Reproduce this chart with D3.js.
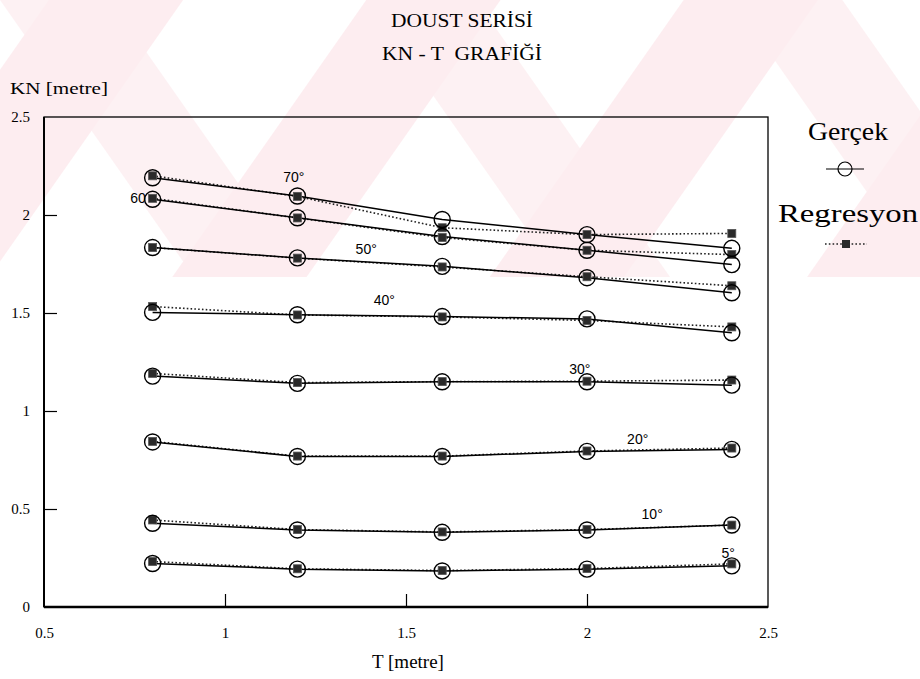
<!DOCTYPE html>
<html><head><meta charset="utf-8">
<script src="https://cdn.jsdelivr.net/npm/d3@7"></script>
<style>body{margin:0;background:#fff}svg{display:block}</style>
</head><body>
<svg id="c" width="920" height="679"></svg>
<script>
const T = [0.8, 1.2, 1.6, 2.0, 2.4];
const angles = ["5", "10", "20", "30", "40", "50", "60", "70"];
const gercek5  = [0.222, 0.193, 0.184, 0.193, 0.210];
const gercek10 = [0.427, 0.393, 0.381, 0.393, 0.418];
const gercek20 = [0.842, 0.768, 0.768, 0.794, 0.804];
const gercek30 = [1.178, 1.141, 1.149, 1.149, 1.132];
const gercek40 = [1.503, 1.491, 1.482, 1.470, 1.399];
const gercek50 = [1.834, 1.781, 1.738, 1.680, 1.603];
const gercek60 = [2.080, 1.986, 1.890, 1.820, 1.747];
const gercek70 = [2.190, 2.097, 1.977, 1.900, 1.830];
const regr5  = [0.232, 0.195, 0.186, 0.196, 0.220];
const regr10 = [0.444, 0.395, 0.383, 0.395, 0.418];
const regr20 = [0.845, 0.770, 0.770, 0.796, 0.811];
const regr30 = [1.192, 1.145, 1.150, 1.152, 1.158];
const regr40 = [1.533, 1.490, 1.480, 1.462, 1.429];
const regr50 = [1.834, 1.780, 1.735, 1.685, 1.639];
const regr60 = [2.085, 1.985, 1.885, 1.820, 1.798];
const regr70 = [2.200, 2.095, 1.935, 1.900, 1.906];
const xTicks = [0.5, 1, 1.5, 2, 2.5];
const yTicks = [0, 0.5, 1, 1.5, 2, 2.5];
const angleLabels = [
  {t:"5°",  x:2.39, y:0.25},
  {t:"10°", x:2.18, y:0.45},
  {t:"20°", x:2.14, y:0.83},
  {t:"30°", x:1.98, y:1.19},
  {t:"40°", x:1.44, y:1.54},
  {t:"50°", x:1.39, y:1.80},
  {t:"60",  x:0.76, y:2.06},
  {t:"70°", x:1.19, y:2.17}
];

const gSeries = [gercek5,gercek10,gercek20,gercek30,gercek40,gercek50,gercek60,gercek70];
const rSeries = [regr5,regr10,regr20,regr30,regr40,regr50,regr60,regr70];

const SERIF = "Liberation Serif";
const SANS = "Liberation Sans";

const svg = d3.select("#c");
const W = 920, H = 679;
const m = {l:44, r:152, t:117, b:72};
const x = d3.scaleLinear().domain([0.5, 2.5]).range([m.l, W - m.r]);
const y = d3.scaleLinear().domain([0, 2.5]).range([H - m.b, m.t]);

// watermark-like pink background band
const defs = svg.append("defs");
const pat = defs.append("pattern").attr("id","wm").attr("patternUnits","userSpaceOnUse")
  .attr("width",260).attr("height",260).attr("patternTransform","rotate(35)");
pat.append("rect").attr("width",260).attr("height",260).attr("fill","#ffffff");
pat.append("rect").attr("x",40).attr("width",110).attr("height",260).attr("fill","#fdedf0");
const pat2 = defs.append("pattern").attr("id","wm2").attr("patternUnits","userSpaceOnUse")
  .attr("width",300).attr("height",300).attr("patternTransform","rotate(-35)");
pat2.append("rect").attr("x",0).attr("width",90).attr("height",300).attr("fill","#fdedf0").attr("opacity",0.8);
svg.append("rect").attr("x",0).attr("y",0).attr("width",W).attr("height",277).attr("fill","url(#wm)");
svg.append("rect").attr("x",0).attr("y",0).attr("width",W).attr("height",277).attr("fill","url(#wm2)");

function txt(xp, yp, s, size, fam, anchor) {
  return svg.append("text").attr("x",xp).attr("y",yp).attr("text-anchor",anchor||"start")
    .style("font-family",fam).style("font-size",size+"px").attr("fill","#000").text(s);
}

// titles
txt(462,27,"DOUST SERİSİ",19,SERIF,"middle").attr("textLength",142).attr("lengthAdjust","spacingAndGlyphs");
txt(462,60,"KN - T  GRAFİĞİ",19,SERIF,"middle").style("white-space","pre").attr("textLength",160).attr("lengthAdjust","spacingAndGlyphs");
txt(10,94,"KN [metre]",17,SERIF).attr("textLength",98).attr("lengthAdjust","spacingAndGlyphs");
txt((x(0.5)+x(2.5))/2 + 2,668,"T [metre]",19,SERIF,"middle");

// frame
svg.append("rect").attr("x",x(0.5)).attr("y",y(2.5)).attr("width",x(2.5)-x(0.5)).attr("height",y(0)-y(2.5))
  .attr("fill","none").attr("stroke","#000").attr("stroke-width",1.3);
svg.append("line").attr("x1",x(0.5)).attr("x2",x(2.5)).attr("y1",y(0)).attr("y2",y(0)).attr("stroke","#000").attr("stroke-width",2.4);
svg.append("line").attr("x1",x(0.5)).attr("x2",x(0.5)).attr("y1",y(0)).attr("y2",y(2.5)).attr("stroke","#000").attr("stroke-width",2);

// axes via d3 axis (inner ticks)
const yAxis = d3.axisLeft(y).tickValues(yTicks).tickFormat(d3.format("")).tickSize(-13).tickPadding(26);
const gy = svg.append("g").attr("transform",`translate(${x(0.5)},0)`).call(yAxis);
gy.select(".domain").remove();
gy.selectAll(".tick line").filter(d => d === 0 || d === 2.5).remove();
gy.selectAll("text").style("font-family",SERIF).style("font-size","15px").attr("fill","#000").attr("text-anchor","end").attr("x",-14);
gy.selectAll(".tick line").attr("stroke","#000").attr("stroke-width",1.2);

const xAxis = d3.axisBottom(x).tickValues(xTicks).tickFormat(d3.format("")).tickSize(-13).tickPadding(20);
const gx = svg.append("g").attr("transform",`translate(0,${y(0)})`).call(xAxis);
gx.select(".domain").remove();
gx.selectAll(".tick line").filter(d => d === 0.5 || d === 2.5).remove();
gx.selectAll("text").style("font-family",SERIF).style("font-size","15px").attr("fill","#000");
gx.selectAll(".tick line").attr("stroke","#000").attr("stroke-width",1.2);

const line = d3.line().x((d,i) => x(T[i])).y(d => y(d));

rSeries.forEach(s => {
  svg.append("path").attr("d", line(s)).attr("fill","none").attr("stroke","#222")
    .attr("stroke-width",1.6).attr("stroke-dasharray","1.6,2.2");
});
gSeries.forEach(s => {
  svg.append("path").attr("d", line(s)).attr("fill","none").attr("stroke","#000").attr("stroke-width",1.5);
});
rSeries.forEach(s => {
  svg.selectAll(null).data(s).enter().append("rect")
    .attr("x",(d,i)=>x(T[i])-4).attr("y",d=>y(d)-4).attr("width",8).attr("height",8)
    .attr("fill","#2a2a2a").attr("stroke","#555").attr("stroke-width",0.8);
});
gSeries.forEach(s => {
  svg.selectAll(null).data(s).enter().append("circle")
    .attr("cx",(d,i)=>x(T[i])).attr("cy",d=>y(d)).attr("r",8)
    .attr("fill","none").attr("stroke","#000").attr("stroke-width",1.4);
});

angleLabels.forEach(a => {
  txt(x(a.x), y(a.y), a.t, 14, SANS, "middle");
});

// legend
txt(848,140,"Gerçek",25,SERIF,"middle").attr("textLength",80).attr("lengthAdjust","spacingAndGlyphs");
svg.append("line").attr("x1",826).attr("x2",864).attr("y1",169).attr("y2",169).attr("stroke","#000").attr("stroke-width",1.2);
svg.append("circle").attr("cx",845).attr("cy",169).attr("r",7).attr("fill","none").attr("stroke","#000").attr("stroke-width",1.2);
txt(848,222,"Regresyon",25,SERIF,"middle").attr("textLength",140).attr("lengthAdjust","spacingAndGlyphs");
svg.append("line").attr("x1",825).attr("x2",867).attr("y1",244).attr("y2",244).attr("stroke","#222")
  .attr("stroke-width",1.6).attr("stroke-dasharray","1.6,2.2");
svg.append("rect").attr("x",842).attr("y",240).attr("width",8).attr("height",8).attr("fill","#2a2a2a");
</script>
</body></html>
